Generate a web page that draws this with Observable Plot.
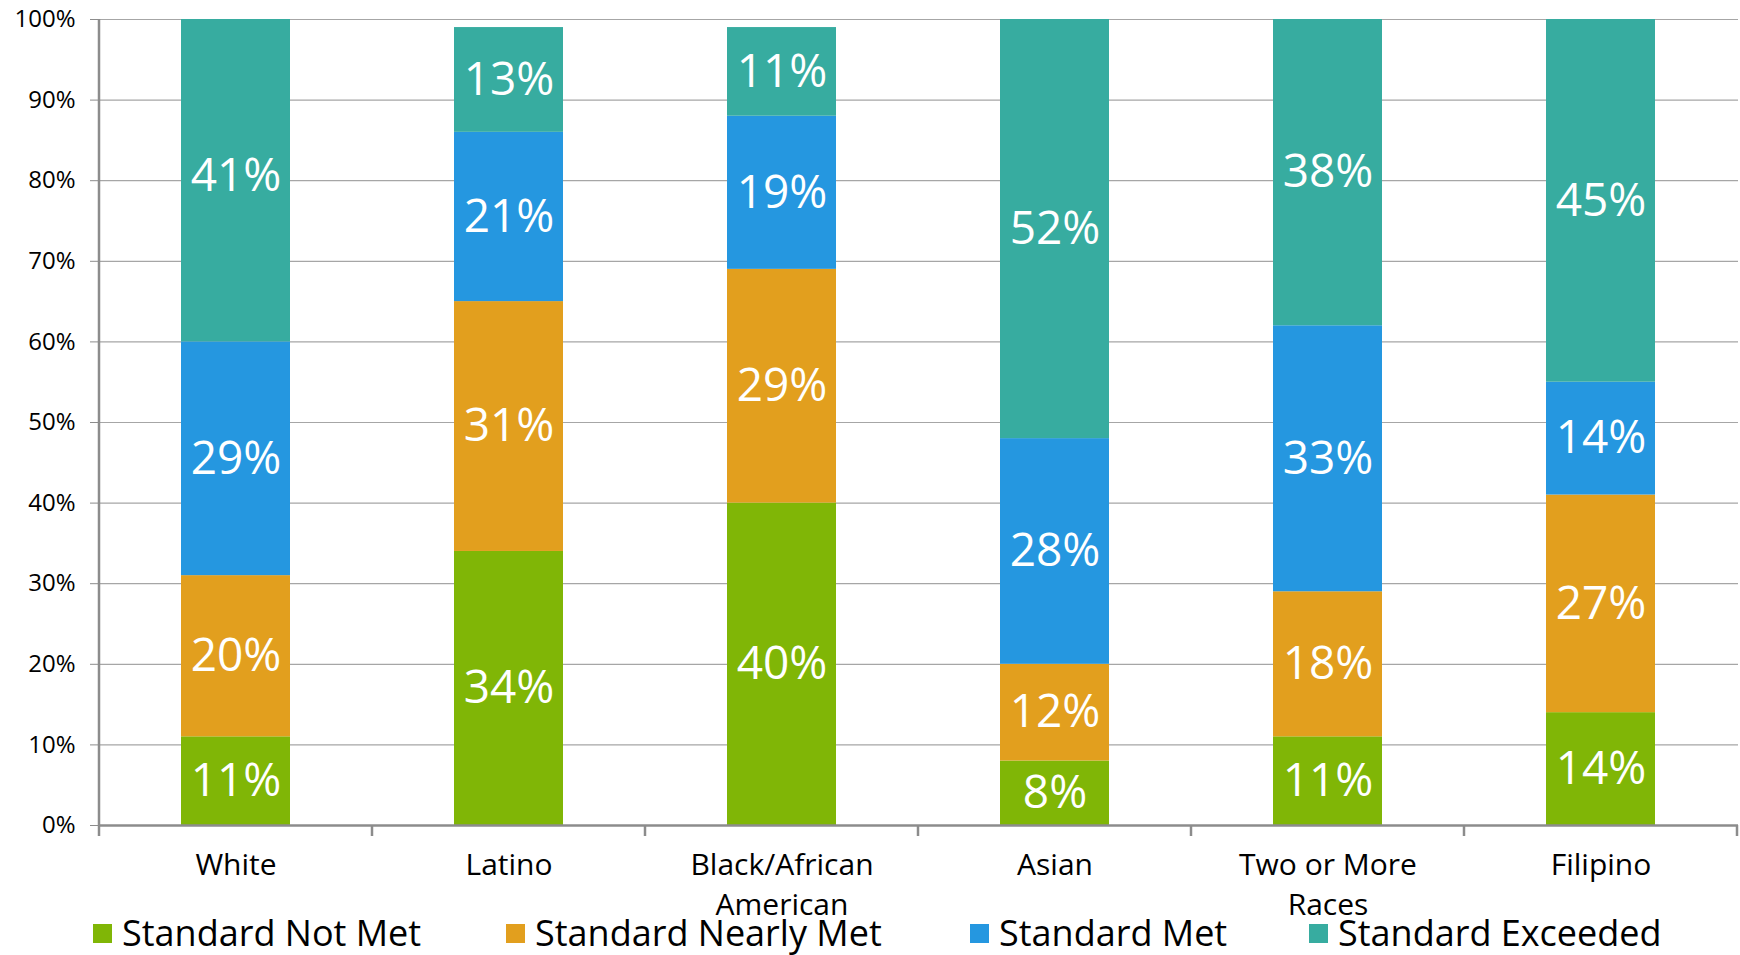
<!DOCTYPE html>
<html>
<head>
<meta charset="utf-8">
<script src="https://cdn.jsdelivr.net/npm/d3@7"></script>
<script src="https://cdn.jsdelivr.net/npm/@observablehq/plot@0.6"></script>
<style>
  html, body { margin: 0; padding: 0; background: #fff; overflow: hidden; }
  #chart { width: 1740px; }
  .legend { display: flex; align-items: center; height: 47px; padding-left: 93px; padding-top: 3px; font-family: "Open Sans", sans-serif; font-size: 36px; line-height: 44px; color: #000; box-sizing: border-box; }
  .legend .item { display: flex; align-items: center; white-space: nowrap; }
  .legend .sw { width: 19px; height: 19px; margin-right: 10px; flex: none; }
</style>
</head>
<body>
<div id="chart"></div>
<script>
const categories = ["White", "Latino", "Black/African American", "Asian", "Two or More Races", "Filipino"];
const tickLabels = ["White", "Latino", "Black/African\nAmerican", "Asian", "Two or More\nRaces", "Filipino"];
const series = ["Standard Not Met", "Standard Nearly Met", "Standard Met", "Standard Exceeded"];
const notMet    = [11, 34, 40,  8, 11, 14];
const nearlyMet = [20, 31, 29, 12, 18, 27];
const met       = [29, 21, 19, 28, 33, 14];
const exceeded  = [41, 13, 11, 52, 38, 45];
const colors = ["#80b606", "#e29f1e", "#2597e0", "#37aca0"];
const yTicks = [0, 10, 20, 30, 40, 50, 60, 70, 80, 90, 100];
const legendWidths = [413, 464, 339, 380];

const values = [notMet, nearlyMet, met, exceeded];
const rows = [];
series.forEach((s, si) => categories.forEach((c, ci) => rows.push({cat: c, series: s, value: values[si][ci]})));

const plot = Plot.plot({
  width: 1740,
  height: 908,
  marginLeft: 99,
  marginRight: 2,
  marginTop: 19,
  marginBottom: 83,
  style: {fontFamily: "Open Sans, sans-serif", background: "white", color: "#000", overflow: "visible"},
  x: {domain: categories, paddingInner: 0.6, paddingOuter: 0.3, axis: null},
  y: {domain: [0, 100], axis: null},
  color: {domain: series, range: colors},
  marks: [
    Plot.ruleY(yTicks.slice(1), {stroke: "#a6a6a6", strokeWidth: 1.2}),
    Plot.barY(rows, Plot.stackY({x: "cat", y: "value", fill: "series", clip: true})),
    Plot.text(rows, Plot.stackY({x: "cat", y: "value", z: "series", text: d => d.value + "%", fill: "white", fontSize: 46})),
    Plot.ruleY([0], {stroke: "#8c8c8c", strokeWidth: 2.5}),
    Plot.axisY({ticks: yTicks, tickFormat: d => d + "%", tickSize: 9, tickPadding: 15, fontSize: 24, stroke: "#8c8c8c", fill: "#000", label: null}),
    Plot.axisX({tickSize: 0, tickPadding: 21, fontSize: 30, lineHeight: 1.33, fill: "#000", label: null,
      tickFormat: d => tickLabels[categories.indexOf(d)]})
  ]
});

// axis line and category boundary ticks from the plot's own scales
const xs = plot.scale("x"), ys = plot.scale("y");
const y0 = ys.apply(0), y100 = ys.apply(100);
const half = (xs.step - xs.bandwidth) / 2;
const bounds = categories.map(c => xs.apply(c) - half);
bounds.push(xs.apply(categories[categories.length - 1]) + xs.bandwidth + half);
const g = d3.select(plot).append("g").attr("stroke", "#8c8c8c");
g.append("line").attr("x1", bounds[0]).attr("x2", bounds[0]).attr("y1", y100).attr("y2", y0 + 1).attr("stroke-width", 2.5);
bounds.forEach(b => g.append("line").attr("x1", b).attr("x2", b).attr("y1", y0).attr("y2", y0 + 11).attr("stroke-width", 2.5));

document.getElementById("chart").appendChild(plot);

const legend = d3.select("#chart").append("div").attr("class", "legend");
series.forEach((s, i) => {
  const it = legend.append("div").attr("class", "item").style("width", legendWidths[i] + "px");
  it.append("div").attr("class", "sw").style("background", colors[i]);
  it.append("span").text(s);
});
</script>
</body>
</html>
